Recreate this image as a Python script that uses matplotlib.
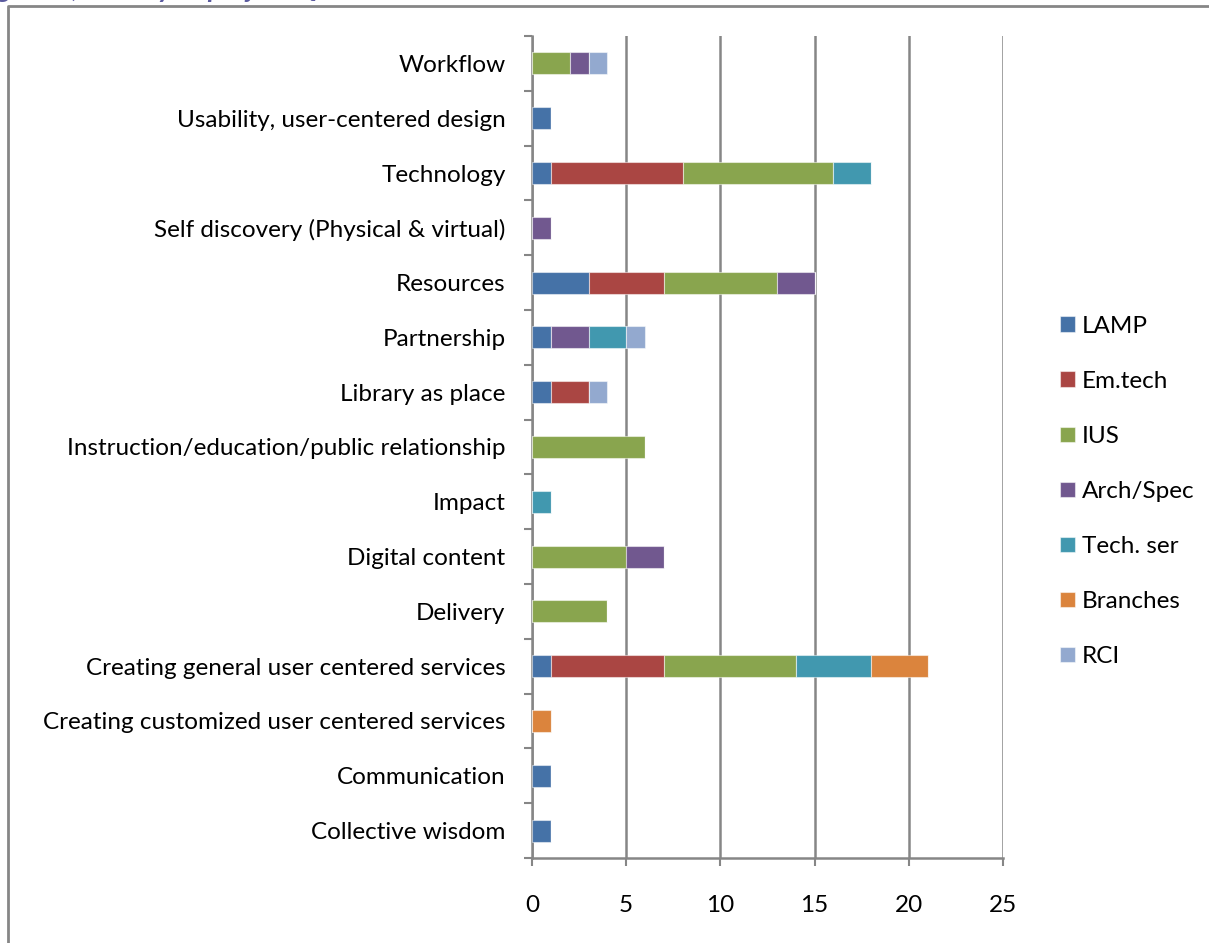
import matplotlib.pyplot as plt
import numpy as np
from matplotlib.lines import Line2D

categories = [
    "Workflow",
    "Usability, user-centered design",
    "Technology",
    "Self discovery (Physical & virtual)",
    "Resources",
    "Partnership",
    "Library as place",
    "Instruction/education/public relationship",
    "Impact",
    "Digital content",
    "Delivery",
    "Creating general user centered services",
    "Creating customized user centered services",
    "Communication",
    "Collective wisdom",
]

series_names = ["LAMP", "Em.tech", "IUS", "Arch/Spec", "Tech. ser", "Branches", "RCI"]
lamp      = [0, 1, 1, 0, 3, 1, 1, 0, 0, 0, 0, 1, 0, 1, 1]
em_tech   = [0, 0, 7, 0, 4, 0, 2, 0, 0, 0, 0, 6, 0, 0, 0]
ius       = [2, 0, 8, 0, 6, 0, 0, 6, 0, 5, 4, 7, 0, 0, 0]
arch_spec = [1, 0, 0, 1, 2, 2, 0, 0, 0, 2, 0, 0, 0, 0, 0]
tech_ser  = [0, 0, 2, 0, 0, 2, 0, 0, 1, 0, 0, 4, 0, 0, 0]
branches  = [0, 0, 0, 0, 0, 0, 0, 0, 0, 0, 0, 3, 1, 0, 0]
rci       = [1, 0, 0, 0, 0, 1, 1, 0, 0, 0, 0, 0, 0, 0, 0]

colors = ["#4572A7", "#AA4643", "#89A54E", "#71588F", "#4198AF", "#DB843D", "#93A9CF"]
grid_gray = "#868686"

plt.rcParams['font.family'] = ['Lato', 'DejaVu Sans']

fig = plt.figure(figsize=(12.09, 9.43), dpi=100)
ax = fig.add_axes([532 / 1209, 85 / 943, 471 / 1209, 822 / 943])

data = [lamp, em_tech, ius, arch_spec, tech_ser, branches, rci]
y = np.arange(len(categories))
left = np.zeros(len(categories))
for name, vals, c in zip(series_names, data, colors):
    vals = np.array(vals, dtype=float)
    ax.barh(y, vals, 0.4, left=left, color=c, label=name,
            edgecolor=(1, 1, 1, 0.5), linewidth=0.8, zorder=3)
    left += vals

ax.set_ylim(len(categories) - 0.5, -0.5)
ax.set_xlim(0, 25)
ax.set_xticks([0, 5, 10, 15, 20, 25])
ax.set_yticks(y)
ax.set_yticklabels(categories)
ax.set_yticks(np.arange(-0.5, len(categories), 1), minor=True)

ax.tick_params(axis='y', which='major', length=0, pad=19, labelsize=17.5)
ax.tick_params(axis='y', which='minor', length=6, width=1.5, color=grid_gray, direction='out')
ax.tick_params(axis='x', length=6, width=1.5, color=grid_gray, pad=21, labelsize=17.5)

ax.grid(axis='x', color=grid_gray, linewidth=1.8, zorder=0)
for side in ['top', 'right']:
    ax.spines[side].set_visible(False)
for side in ['left', 'bottom']:
    ax.spines[side].set_color(grid_gray)
    ax.spines[side].set_linewidth(1.8)

leg = fig.legend(loc='upper left', bbox_to_anchor=(1038 / 1209, 1 - 294 / 943),
                 frameon=False, fontsize=17.5, handlelength=0.62, handleheight=0.62,
                 handletextpad=0.3, labelspacing=1.4)

# outer chart frame (cut off at right and bottom)
fig.add_artist(Line2D([8 / 1209, 8 / 1209, 1.0], [0.0, 1 - 6 / 943, 1 - 6 / 943],
                      transform=fig.transFigure, color=grid_gray, linewidth=2))

# caption above the chart, cut off by the top edge as in the page crop
fig.text(-0.02, 1 + 3 / 943, "Figure 3, Priority of project Queries", fontsize=20,
         style='italic', weight='bold', color="#5A5A9E", va='baseline', ha='left')

fig.savefig("out.png", dpi=100)
